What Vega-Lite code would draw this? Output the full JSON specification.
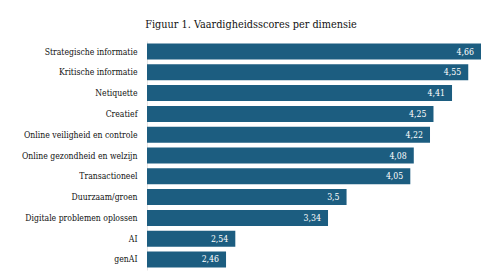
{
  "$schema": "https://vega.github.io/schema/vega-lite/v6.json",
  "width": 334,
  "height": 229,
  "autosize": "none",
  "padding": {"left": 147, "top": 41, "right": 19, "bottom": 10},
  "background": "white",
  "config": {
    "locale": {"number": {"decimal": ",", "thousands": ".", "grouping": [3], "currency": ["€", ""]}},
    "view": {"stroke": null},
    "font": "DejaVu Serif Condensed"
  },
  "title": {
    "text": "Figuur 1. Vaardigheidsscores per dimensie",
    "font": "DejaVu Serif Condensed",
    "fontSize": 10.8,
    "fontWeight": "normal",
    "color": "#111111",
    "anchor": "middle",
    "dx": -63,
    "offset": 11
  },
  "data": {
    "values": [
      {"dimensie": "Strategische informatie", "score": 4.66},
      {"dimensie": "Kritische informatie", "score": 4.55},
      {"dimensie": "Netiquette", "score": 4.41},
      {"dimensie": "Creatief", "score": 4.25},
      {"dimensie": "Online veiligheid en controle", "score": 4.22},
      {"dimensie": "Online gezondheid en welzijn", "score": 4.08},
      {"dimensie": "Transactioneel", "score": 4.05},
      {"dimensie": "Duurzaam/groen", "score": 3.5},
      {"dimensie": "Digitale problemen oplossen", "score": 3.34},
      {"dimensie": "AI", "score": 2.54},
      {"dimensie": "genAI", "score": 2.46}
    ]
  },
  "encoding": {
    "y": {
      "field": "dimensie",
      "type": "nominal",
      "sort": null,
      "scale": {"paddingInner": 0.23, "paddingOuter": 0.12},
      "axis": {
        "title": null,
        "ticks": false,
        "domain": true,
        "domainColor": "#e4e4e4",
        "labelFont": "DejaVu Serif Condensed",
        "labelFontSize": 8.6,
        "labelColor": "#111111",
        "labelPadding": 10,
        "labelLimit": 200
      }
    },
    "x": {
      "field": "score",
      "type": "quantitative",
      "scale": {"domain": [1.778, 4.66], "zero": false, "nice": false},
      "axis": null
    }
  },
  "layer": [
    {"mark": {"type": "bar", "color": "#1c5d80", "clip": true}},
    {
      "mark": {"type": "text", "align": "right", "baseline": "middle", "dx": -7, "color": "white", "fontSize": 8.7, "font": "DejaVu Serif Condensed"},
      "encoding": {"text": {"field": "score", "type": "quantitative", "format": ".3~g"}}
    }
  ]
}
